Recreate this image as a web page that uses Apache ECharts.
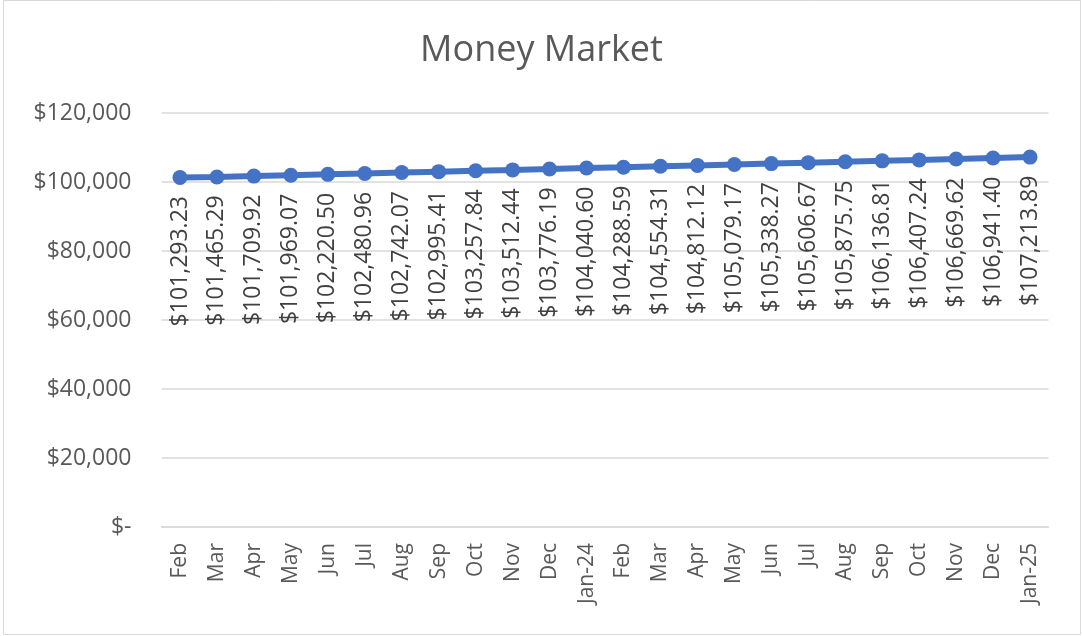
<!DOCTYPE html>
<html lang="en">
<head>
  <meta charset="UTF-8">
  <title>Money Market</title>
  <style>
    body { margin: 0; background: #fff; }
    #chart { width: 1083px; height: 636px; }
  </style>
</head>
<body>
  <div id="chart"></div>
  <script src="https://cdn.jsdelivr.net/npm/echarts@6/dist/echarts.min.js"></script>
  <script>
    var months = ['Feb', 'Mar', 'Apr', 'May', 'Jun', 'Jul', 'Aug', 'Sep', 'Oct', 'Nov', 'Dec', 'Jan-24',
      'Feb', 'Mar', 'Apr', 'May', 'Jun', 'Jul', 'Aug', 'Sep', 'Oct', 'Nov', 'Dec', 'Jan-25'];
    var balance = [101293.23, 101465.29, 101709.92, 101969.07, 102220.50, 102480.96, 102742.07, 102995.41,
      103257.84, 103512.44, 103776.19, 104040.60, 104288.59, 104554.31, 104812.12, 105079.17,
      105338.27, 105606.67, 105875.75, 106136.81, 106407.24, 106669.62, 106941.40, 107213.89];
    var yTicks = [0, 20000, 40000, 60000, 80000, 100000, 120000];

    var font = '"Open Sans", "Noto Sans", sans-serif';

    function money(v, dec) {
      if (v === 0) return '$-';
      return '$' + v.toLocaleString('en-US', { minimumFractionDigits: dec, maximumFractionDigits: dec });
    }

    var chart = echarts.init(document.getElementById('chart'));
    chart.setOption({
      animation: false,
      title: {
        text: 'Money Market',
        left: 'center',
        top: 28,
        textStyle: { fontFamily: font, fontSize: 36, fontWeight: 'normal', color: '#595959' }
      },
      graphic: [{
        type: 'rect',
        shape: { x: 3.5, y: 0.5, width: 1077, height: 634 },
        style: { fill: 'none', stroke: '#d9d9d9', lineWidth: 1 },
        silent: true
      }],
      grid: { left: 161.5, right: 34.5, top: 113, bottom: 109 },
      xAxis: {
        type: 'category',
        data: months,
        boundaryGap: true,
        axisLine: { lineStyle: { color: '#d9d9d9', width: 1.5 } },
        axisTick: { show: false },
        axisLabel: {
          interval: 0,
          rotate: 90,
          margin: 16,
          fontFamily: font,
          fontSize: 21,
          color: '#595959'
        }
      },
      yAxis: {
        type: 'value',
        min: yTicks[0],
        max: yTicks[yTicks.length - 1],
        interval: yTicks[1] - yTicks[0],
        axisLine: { show: false },
        axisTick: { show: false },
        splitLine: { lineStyle: { color: '#d9d9d9', width: 1.5 } },
        axisLabel: {
          margin: 30,
          fontFamily: font,
          fontSize: 23,
          color: '#595959',
          formatter: function (v) { return money(v, 0); }
        }
      },
      series: [{
        type: 'line',
        data: balance,
        symbol: 'circle',
        symbolSize: 15,
        itemStyle: { color: '#4472c4' },
        lineStyle: { color: '#4472c4', width: 6 },
        label: {
          show: true,
          position: 'bottom',
          distance: 11,
          rotate: 90,
          align: 'right',
          verticalAlign: 'middle',
          fontFamily: font,
          fontSize: 23,
          color: '#404040',
          formatter: function (p) { return money(p.value, 2); }
        }
      }]
    });
  </script>
</body>
</html>
